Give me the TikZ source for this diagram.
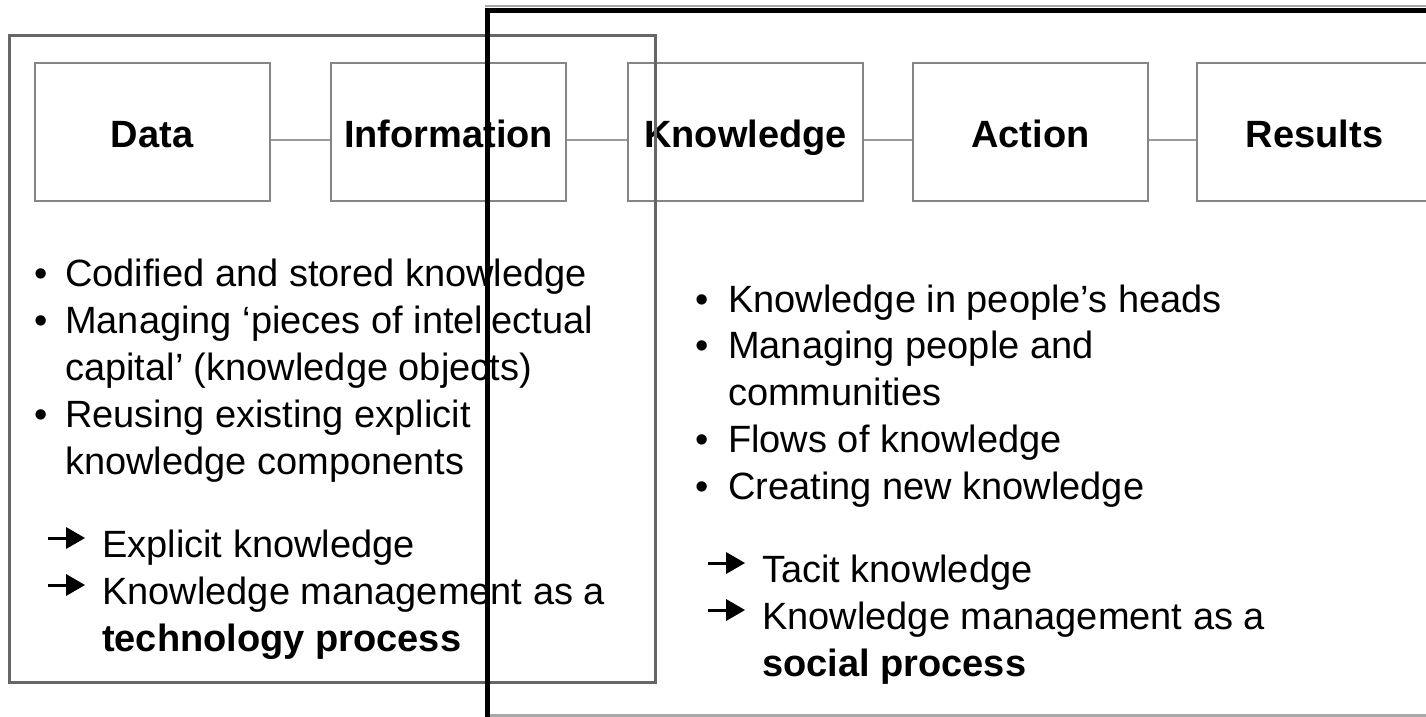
\documentclass[tikz,border=0pt]{standalone}
\usepackage{fontspec}
\setmainfont{Liberation Sans}
\definecolor{boxgray}{HTML}{858585}
\definecolor{linkgray}{HTML}{9A9A9A}
\definecolor{framegray}{HTML}{666666}
\definecolor{edgegray}{HTML}{A8A8A8}
\tikzset{
  pointer/.pic={
    \draw[line width=3pt] (-19pt,0pt) -- (2pt,0pt);
    \fill (18pt,0pt) -- (-1pt,11pt) -- (-1pt,-11pt) -- cycle;
  }
}
\begin{document}
\begin{tikzpicture}[x=1pt,y=-1pt,
  body/.style={anchor=base west, inner sep=0pt, font=\fontsize{38}{46}\selectfont},
  stepbox/.style={draw=boxgray, line width=2pt, minimum width=235pt, minimum height=138pt,
    text height=30pt, text depth=0pt, inner sep=0pt, font=\fontsize{38}{46}\selectfont\bfseries},
  dot/.style={anchor=base, inner sep=0pt, font=\fontsize{38}{38}\selectfont},
  link/.style={draw=linkgray, line width=1.5pt}
]
\useasboundingbox[fill=white] (0,0) rectangle (1426,717);

% chain of stages
\node[stepbox] (data) at (152,132) {Data};
\node[stepbox] (info) at (448.5,132) {Information};
\node[stepbox] (know) at (745.5,132) {Knowledge};
\node[stepbox] (act)  at (1030.5,132) {Action};
\node[stepbox] (res)  at (1314.5,132) {Results};

\draw[link] ([yshift=-8pt]data.east) -- ([yshift=-8pt]info.west);
\draw[link] ([yshift=-8pt]info.east) -- ([yshift=-8pt]know.west);
\draw[link] ([yshift=-8pt]know.east) -- ([yshift=-8pt]act.west);
\draw[link] ([yshift=-8pt]act.east) -- ([yshift=-8pt]res.west);

% technology side
\node[dot] (lb1) at (41,286) {•};
\node[body] (l1) at (65,286) {Codified and stored knowledge};
\node[dot] (lb2) at (41,333) {•};
\node[body] (l2) at (65,333) {Managing ‘pieces of intellectual};
\node[body] (l3) at (65,380) {capital’ (knowledge objects)};
\node[dot] (lb3) at (41,427) {•};
\node[body] (l4) at (65,427) {Reusing existing explicit};
\node[body] (l5) at (65,474) {knowledge components};

\pic at (67,538) {pointer};
\node[body] (l6) at (102,557) {Explicit knowledge};
\pic at (67,585) {pointer};
\node[body] (l7) at (102,604) {Knowledge management as a};
\node[body] (l8) at (102,651) {\bfseries technology process};

% social side
\node[dot] (rb1) at (702,312) {•};
\node[body] (r1) at (728,312) {Knowledge in people’s heads};
\node[dot] (rb2) at (702,358) {•};
\node[body] (r2) at (728,358) {Managing people and};
\node[body] (r3) at (728,405) {communities};
\node[dot] (rb3) at (702,452) {•};
\node[body] (r4) at (728,452) {Flows of knowledge};
\node[dot] (rb4) at (702,499) {•};
\node[body] (r5) at (728,499) {Creating new knowledge};

\pic at (727,563) {pointer};
\node[body] (r6) at (762,582) {Tacit knowledge};
\pic at (727,610) {pointer};
\node[body] (r7) at (762,629) {Knowledge management as a};
\node[body] (r8) at (762,676) {\bfseries social process};

% panels
\draw[framegray, line width=3pt] (9,36) rectangle (655,682);
\draw[edgegray, line width=2pt] (485,6) -- (1440,6);
\draw[edgegray, line width=3pt] (487,715) -- (1440,715);
\draw[black, line width=4.5pt] (1440,10.5) -- (487.5,10.5) -- (487.5,720);
\end{tikzpicture}
\end{document}
